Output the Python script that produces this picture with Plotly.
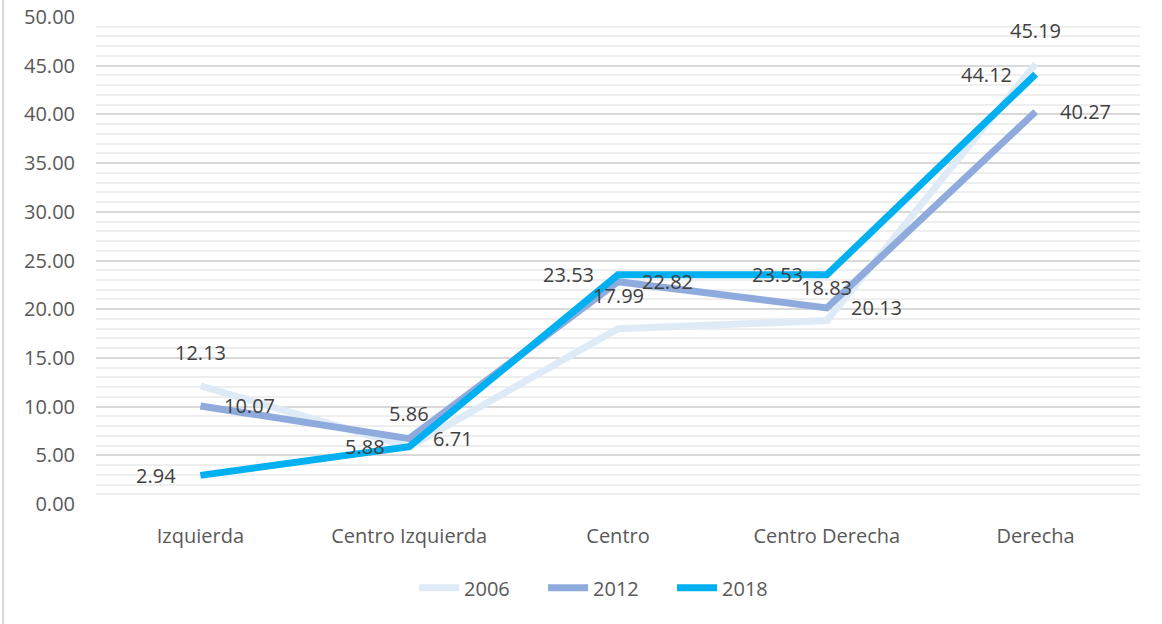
import plotly.graph_objects as go

categories = ["Izquierda", "Centro Izquierda", "Centro", "Centro Derecha", "Derecha"]
years = ["2006", "2012", "2018"]
v2006 = [12.13, 5.86, 17.99, 18.83, 45.19]
v2012 = [10.07, 6.71, 22.82, 20.13, 40.27]
v2018 = [2.94, 5.88, 23.53, 23.53, 44.12]
y_ticks = [0, 5, 10, 15, 20, 25, 30, 35, 40, 45, 50]

series = [v2006, v2012, v2018]
colors = ["#DEEBF7", "#8FAADC", "#00B0F0"]
FONT = "Open Sans"
FS = 20

fig = go.Figure()
for name, vals, col in zip(years, series, colors):
    fig.add_trace(go.Scatter(
        x=categories, y=vals, name=name, mode="lines",
        line=dict(color=col, width=7),
        hoverinfo="skip",
    ))

annotations = []
label_style = [
    dict(xanchor="center", yanchor="middle", xshift=0, yshift=33),
    dict(xanchor="left", yanchor="middle", xshift=22, yshift=0),
    dict(xanchor="right", yanchor="middle", xshift=-22, yshift=0),
]
for vals, st in zip(series, label_style):
    for c, v in zip(categories, vals):
        annotations.append(dict(
            x=c, y=v, xref="x", yref="y", text=f"{v:.2f}", showarrow=False,
            font=dict(family=FONT, size=FS, color="#404040"), **st))

fig.update_layout(
    width=1162, height=624,
    margin=dict(l=96, r=22, t=17, b=120, autoexpand=False),
    paper_bgcolor="white", plot_bgcolor="white",
    font=dict(family=FONT, size=FS, color="#595959"),
    showlegend=True,
    legend=dict(orientation="h", x=0.49, xanchor="center", y=-0.172, yanchor="middle",
                font=dict(family=FONT, size=FS, color="#595959"),
                entrywidth=74, entrywidthmode="pixels", itemwidth=40),
    annotations=annotations,
    shapes=[dict(type="line", xref="paper", yref="paper", x0=-0.089, x1=-0.089,
                 y0=-0.3, y1=1.1, line=dict(color="#D9D9D9", width=2))],
)
fig.update_xaxes(
    type="category", showgrid=False, zeroline=False, showline=False, automargin=False,
    ticks="", tickfont=dict(family=FONT, size=FS, color="#595959"),
    ticklabelstandoff=18, range=[-0.5, 4.5],
)
fig.update_yaxes(
    range=[0, 50], tickvals=y_ticks, ticktext=[f"{t:.2f}" for t in y_ticks],
    showgrid=True, gridcolor="#D9D9D9", gridwidth=2, zeroline=False, showline=False,
    automargin=False,
    tickfont=dict(family=FONT, size=FS, color="#595959"), ticklabelstandoff=20,
    minor=dict(dtick=1, showgrid=True, gridcolor="#EEEEEE", gridwidth=2),
)

fig.write_html("out.html", config={"displayModeBar": False},
               post_script="document.body.style.margin='0';document.body.style.overflow='hidden';")
